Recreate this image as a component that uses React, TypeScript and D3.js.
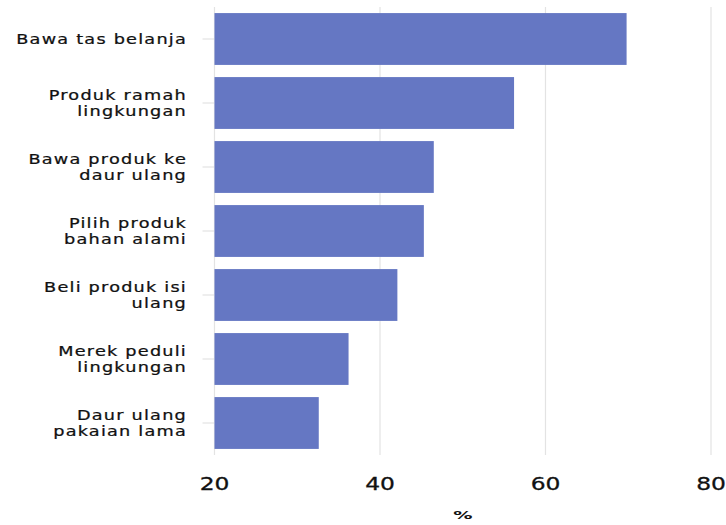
import React from "react";
import * as d3 from "d3";

const categories: string[][] = [
  ["Bawa tas belanja"],
  ["Produk ramah", "lingkungan"],
  ["Bawa produk ke", "daur ulang"],
  ["Pilih produk", "bahan alami"],
  ["Beli produk isi", "ulang"],
  ["Merek peduli", "lingkungan"],
  ["Daur ulang", "pakaian lama"],
];
const values: number[] = [69.8, 56.2, 46.5, 45.3, 42.1, 36.2, 32.6];
const xTicks: number[] = [20, 40, 60, 80];
const xLabel = "%";

const W = 726;
const H = 525;
const left = 214.5;
const right = 711;
const top = 7;
const bottom = 455;
const color = "#6577c3";
const font = "DejaVu Sans, sans-serif";

export default function App() {
  const x = d3.scaleLinear().domain([20, 80]).range([left, right]);
  const keys = categories.map((c) => c.join(" "));
  const y = d3
    .scaleBand<string>()
    .domain(keys)
    .range([top, bottom])
    .paddingInner(0.19)
    .paddingOuter(0.095);

  return (
    <svg
      width={W}
      height={H}
      style={{ position: "absolute", left: 0, top: 0, background: "#fff" }}
    >
      {xTicks.map((t) => (
        <line
          key={"g" + t}
          x1={x(t)}
          x2={x(t)}
          y1={top}
          y2={bottom}
          stroke="#e3e3e3"
          strokeWidth={1.2}
        />
      ))}
      {keys.map((k) => {
        const yc = (y(k) as number) + y.bandwidth() / 2;
        return (
          <line
            key={"t" + k}
            x1={left - 12}
            x2={left}
            y1={yc}
            y2={yc}
            stroke="#e3e3e3"
            strokeWidth={1.2}
          />
        );
      })}
      {keys.map((k, i) => (
        <rect
          key={"b" + k}
          x={x(20)}
          y={y(k) as number}
          width={x(values[i]) - x(20)}
          height={y.bandwidth()}
          fill={color}
        />
      ))}
      {categories.map((lines, i) => {
        const yc = (y(keys[i]) as number) + y.bandwidth() / 2;
        const lh = 15.5;
        const y0 = yc - ((lines.length - 1) * lh) / 2;
        return (
          <g key={"l" + i} transform={`translate(187,0) scale(1.22,1)`}>
            {lines.map((ln, j) => (
              <text
                key={j}
                x={0}
                y={y0 + j * lh}
                dy="0.36em"
                textAnchor="end"
                fontFamily={font}
                fontSize={14.5}
                letterSpacing={1.0}
                fill="#111"
                stroke="#111"
                strokeWidth={0.25}
              >
                {ln}
              </text>
            ))}
          </g>
        );
      })}
      {xTicks.map((t) => (
        <g key={"x" + t} transform={`translate(${x(t)},490) scale(1.3,1)`}>
          <text
            x={0}
            y={0}
            textAnchor="middle"
            fontFamily={font}
            fontSize={18}
            fill="#111"
            stroke="#111"
            strokeWidth={0.3}
          >
            {t}
          </text>
        </g>
      ))}
      <g transform={`translate(${(left + right) / 2},519) scale(1.6,0.85)`}>
        <text
          x={0}
          y={0}
          textAnchor="middle"
          fontFamily={font}
          fontSize={12}
          fontWeight="bold"
          fill="#111"
        >
          {xLabel}
        </text>
      </g>
    </svg>
  );
}
